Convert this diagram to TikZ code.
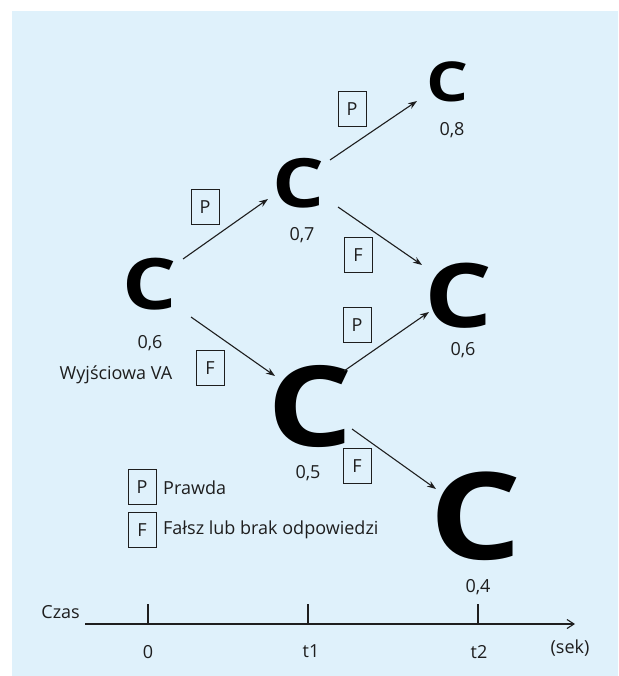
\documentclass[tikz,border=0pt]{standalone}
\usepackage{fontspec}
\usepackage{graphicx}
\setmainfont{Open Sans}
\usetikzlibrary{arrows.meta}
\definecolor{panel}{HTML}{DFF1FB}
\definecolor{ink}{HTML}{1E1E1E}
% heavy, slightly widened letter for the states
\newcommand{\stateC}{\scalebox{1.2}[1]{C}}
\begin{document}
\begin{tikzpicture}[x=1pt,y=-1pt,
  cnode/.style={font=\fontsize{#1}{#1}\selectfont\bfseries, inner sep=0pt, text=black},
  val/.style={font=\fontsize{18}{21}\selectfont, text=ink, inner sep=0pt},
  tag/.style={draw=ink, line width=0.9pt, minimum width=28pt, minimum height=35pt,
              inner sep=0pt, font=\fontsize{18}{21}\selectfont, text=ink},
  arr/.style={-{Stealth[length=9pt,width=6.5pt]}, line width=1.1pt, draw=ink},
  axisline/.style={-{Straight Barb[length=7pt,width=9pt]}, line width=1.1pt, draw=ink},
  tick/.style={line width=1.1pt, draw=ink}]

\useasboundingbox (0,0) rectangle (618,676);
\fill[white] (0,0) rectangle (618,676);
\fill[panel] (12,11) rectangle (618,676);

% states of the tree
\node[cnode=71]  (c1) at (150,284) {\stateC};
\node[cnode=68]  (c2) at (298,183) {\stateC};
\node[cnode=55]  (c3) at (448,82)  {\stateC};
\node[cnode=112] (c4) at (310,406) {\stateC};
\node[cnode=89]  (c5) at (459,296) {\stateC};
\node[cnode=121] (c6) at (476,516) {\stateC};

% values under the states
\node[val] (v1) at (150,343) {0,6};
\node[val] (v2) at (302,235) {0,7};
\node[val] (v3) at (452,130) {0,8};
\node[val] (v4) at (308,473) {0,5};
\node[val] (v5) at (463,350) {0,6};
\node[val] (v6) at (478,587) {0,4};
\node[val] (start) at (116,375) {Wyjściowa VA};

% transitions
\draw[arr] ([shift={(33,-25)}]c1.center) -- ([shift={(-30,16)}]c2.center);
\draw[arr] ([shift={(41,33)}]c1.center)  -- ([shift={(-35,-30)}]c4.center);
\draw[arr] ([shift={(32,-23)}]c2.center) -- ([shift={(-31,19)}]c3.center);
\draw[arr] ([shift={(40,24)}]c2.center)  -- ([shift={(-37,-31)}]c5.center);
\draw[arr] ([shift={(34,-35)}]c4.center) -- ([shift={(-30,16)}]c5.center);
\draw[arr] ([shift={(42,23)}]c4.center)  -- ([shift={(-40,-27)}]c6.center);

% answer tags on the transitions
\node[tag] (t12) at (205,207) {P};
\node[tag] (t14) at (210,368) {F};
\node[tag] (t23) at (352,109) {P};
\node[tag] (t25) at (358,255) {F};
\node[tag] (t45) at (357,325) {P};
\node[tag] (t46) at (357,466) {F};

% legend
\node[tag] (lp) at (142,487) {P};
\node[tag] (lf) at (142,530) {F};
\node[val, anchor=west] (lpt) at (163,488) {Prawda};
\node[val, anchor=west] (lft) at (163,530) {Fałsz lub brak odpowiedzi};

% time axis
\coordinate (ax0) at (85,624);
\coordinate (ax1) at (575,624);
\draw[axisline] (ax0) -- (ax1);
\coordinate (k0) at (148,624);
\coordinate (k1) at (308,624);
\coordinate (k2) at (478,624);
\draw[tick] (k0) -- ++(0,-20);
\draw[tick] (k1) -- ++(0,-20);
\draw[tick] (k2) -- ++(0,-20);
\node[val, anchor=east] (czas) at (80,612) {Czas};
\node[val] (l0) at (148,652) {0};
\node[val] (l1) at (311,651) {t1};
\node[val] (l2) at (479,652) {t2};
\node[val] (sek) at (570,648) {(sek)};
\end{tikzpicture}
\end{document}
